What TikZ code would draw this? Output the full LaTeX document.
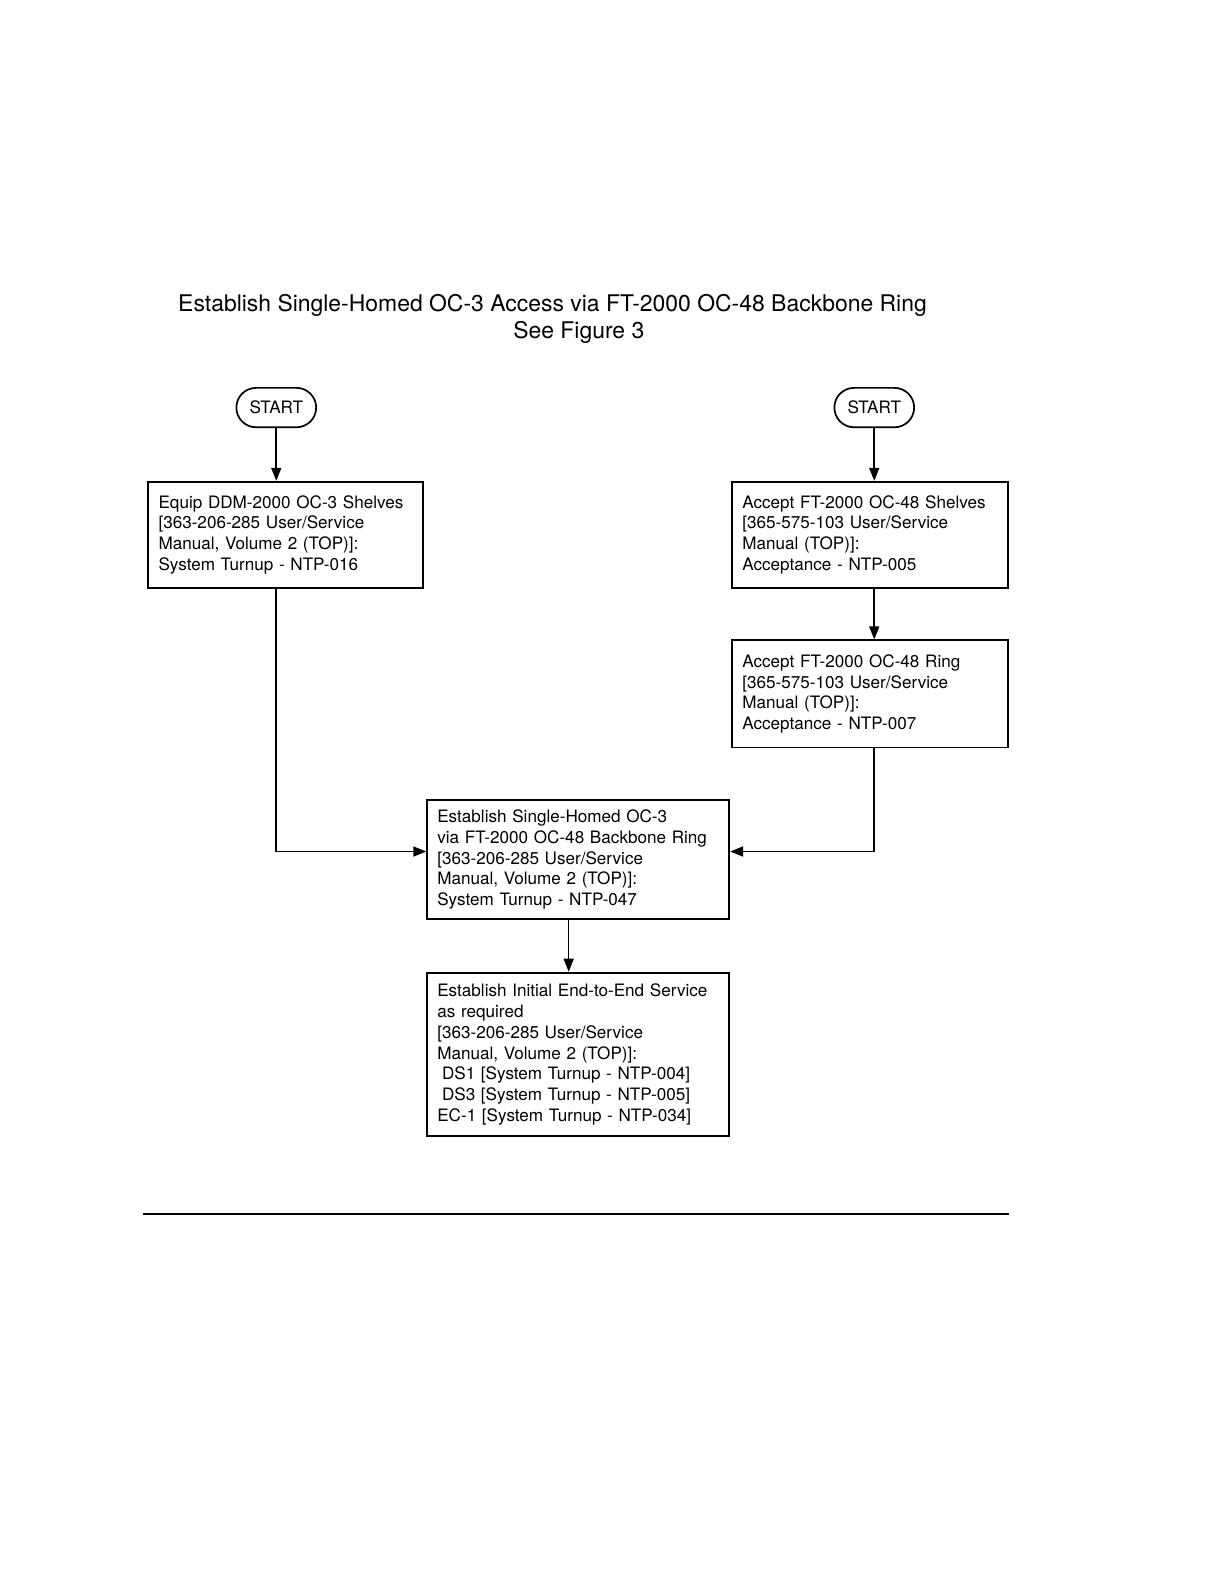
\documentclass[tikz,border=0pt]{standalone}
\usepackage{fontspec}
\setmainfont{TeX Gyre Heros}
\usetikzlibrary{arrows.meta,shapes.misc}
\newcommand{\bodyfnt}{\fontsize{17.1}{20.8}\selectfont}
\newcommand{\titlefnt}{\fontsize{22.93}{27.3}\selectfont}
\begin{document}
\begin{tikzpicture}[x=1.0101pt,y=-1.0101pt,
  stepbox/.style={draw, line width=1.9pt, rectangle, inner xsep=10.1pt, inner ysep=0pt,
    align=left, font=\bodyfnt, anchor=north west},
  startnode/.style={draw, line width=1.7pt, rounded rectangle, minimum width=79.8pt,
    minimum height=39.4pt, inner sep=0pt, font=\bodyfnt},
  conn/.style={line width=1.6pt, -{Triangle[length=13pt,width=10pt]}},
  plain/.style={line width=1.4pt}]
\useasboundingbox (0,0) rectangle (1211.76,1568.16);
\fill[white] (0,0) rectangle (1211.76,1568.16);

\node[font=\titlefnt, anchor=base] (t1) at (547,308)
  {Establish Single-Homed OC-3 Access via FT-2000 OC-48 Backbone Ring};
\node[font=\titlefnt, anchor=base] (t2) at (573,335) {See Figure 3};

\node[startnode] (s1) at (273.5,403.5) {START};
\node[startnode] (s2) at (865.5,403.5) {START};

\node[stepbox, text width=254.5pt, minimum height=106.1pt] (b1) at (146,476)
  {Equip DDM-2000 OC-3 Shelves\\{[}363-206-285 User/Service\\Manual, Volume 2 (TOP)]:\\System Turnup - NTP-016};
\node[stepbox, text width=255.6pt, minimum height=106.1pt] (b2) at (724,476)
  {Accept FT-2000 OC-48 Shelves\\{[}365-575-103 User/Service\\Manual (TOP)]:\\Acceptance - NTP-005};
\node[stepbox, text width=255.6pt, minimum height=107.1pt] (b3) at (724,633)
  {Accept FT-2000 OC-48 Ring\\{[}365-575-103 User/Service\\Manual (TOP)]:\\Acceptance - NTP-007};
\node[stepbox, text width=281.8pt, minimum height=119.2pt] (b4) at (422,791)
  {Establish Single-Homed OC-3\\via FT-2000 OC-48 Backbone Ring\\{[}363-206-285 User/Service\\Manual, Volume 2 (TOP)]:\\System Turnup - NTP-047};
\node[stepbox, text width=281.8pt, minimum height=163.6pt] (b5) at (422,962)
  {Establish Initial End-to-End Service\\as required\\{[}363-206-285 User/Service\\Manual, Volume 2 (TOP)]:\\\hspace*{4.7pt}DS1 [System Turnup - NTP-004]\\\hspace*{4.7pt}DS3 [System Turnup - NTP-005]\\EC-1 [System Turnup - NTP-034]};

\coordinate (j1) at (273.5,843);
\coordinate (j2) at (865.5,843);
\coordinate (m45) at (563,843);

\draw[conn] (s1.south) -- (s1.south |- b1.north);
\draw[conn] (s2.south) -- (s2.south |- b2.north);
\draw[conn] (b2.south -| s2) -- (b3.north -| s2);
\draw[conn] (b1.south -| j1) -- (j1) -- (j1 -| b4.west);
\draw[conn] (b3.south -| j2) -- (j2) -- (j2 -| b4.east);
\draw[conn] (b4.south -| m45) -- (b5.north -| m45);

\draw[plain] (142,1202) -- (999,1202);
\end{tikzpicture}
\end{document}
